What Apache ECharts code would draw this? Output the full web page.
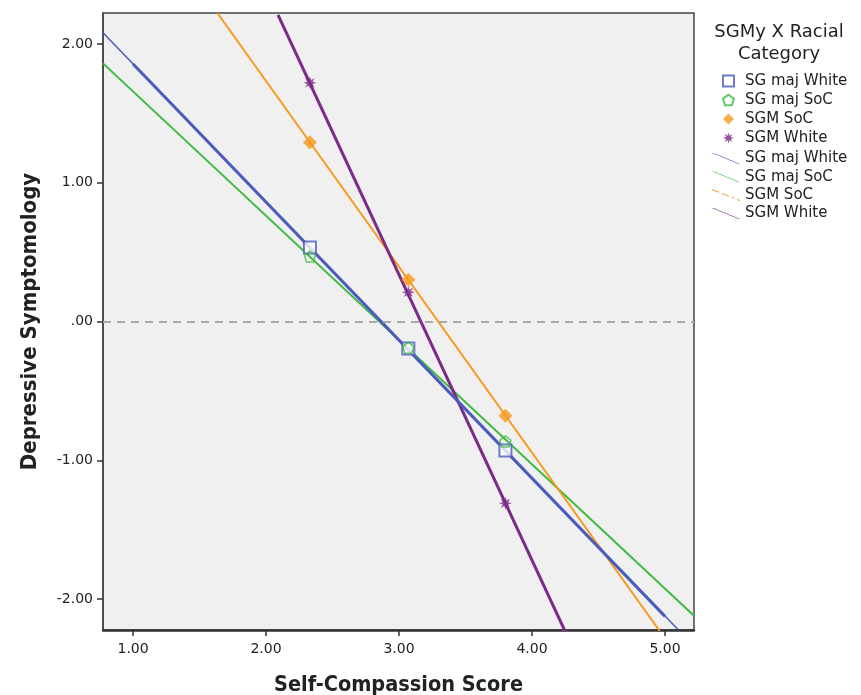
<!DOCTYPE html>
<html><head><meta charset="utf-8">
<script src="https://cdn.jsdelivr.net/npm/echarts@6/dist/echarts.min.js"></script>
<style>html,body{margin:0;padding:0;background:#fff}#c{width:861px;height:695px}</style>
</head><body><div id="c"></div>
<script>
// ---- data ----
const xCats = [2.33, 3.07, 3.80];
const sgMajWhite = [0.533, -0.195, -0.93];
const sgMajSoC = [0.468, -0.19, -0.865];
const sgmSoC = [1.29, 0.30, -0.68];
const sgmWhite = [1.72, 0.21, -1.31];
// fitted line endpoints [x, y]
const lineSgMajWhite = [[0.774, 2.08], [5.098, -2.22]];
const lineSgMajWhiteCore = [[1.0, 1.855], [5.0, -2.125]];
const lineSgMajSoC = [[0.774, 1.86], [5.218, -2.12]];
const lineSgmSoC = [[1.634, 2.223], [4.96, -2.23]];
const lineSgmWhite = [[2.09, 2.21], [4.25, -2.235]];
const xTicks = [1, 2, 3, 4, 5];
const yTicks = [-2, -1, 0, 1, 2];

const C = {blue:'#4b5bbd', green:'#3dba3f', orange:'#f7991c', purple:'#7a2b87'};

function starPath(n, ro, ri){
  let s = 'path://';
  for (let i=0;i<n*2;i++){
    const r = i%2===0?ro:ri;
    const a = Math.PI*i/n - Math.PI/2;
    s += (i===0?'M':'L') + (10+r*Math.cos(a)).toFixed(2)+','+(10+r*Math.sin(a)).toFixed(2)+' ';
  }
  return s+'Z';
}
const asterisk = starPath(8, 10, 4.5);
const pentagon = 'path://M10,0 L19.5,6.9 L15.9,18.1 L4.1,18.1 L0.5,6.9 Z';
const pair = (xs, ys) => xs.map((x,i)=>[x, ys[i]]);
const diag = 'path://M0,0 L1.5,0 L28,11 L26.5,11 Z';

const chart = echarts.init(document.getElementById('c'));
const lbl = {fontFamily:'DejaVu Sans', fontSize:14, color:'#222'};
const legText = {fontFamily:'DejaVu Sans', fontSize:15, color:'#222'};
chart.setOption({
  animation:false,
  backgroundColor:'#fff',
  grid:{left:103, top:13, width:591, height:617, outerBoundsMode:'none', containLabel:false, show:true, backgroundColor:'#f0f0f0', borderColor:'#444', borderWidth:1.5},
  xAxis:{type:'value', min:0.774, max:5.218, name:'Self-Compassion Score', nameLocation:'middle', nameGap:44,
    nameTextStyle:{fontFamily:'Liberation Sans Narrow, DejaVu Sans Condensed', fontWeight:'bold', fontSize:21.5, color:'#222'},
    axisLine:{show:true, onZero:false, lineStyle:{color:'#333', width:2.5}},
    axisTick:{show:true, customValues:xTicks, length:6, lineStyle:{color:'#333', width:1.5}},
    axisLabel:Object.assign({customValues:xTicks, margin:12, formatter:v=>v.toFixed(2)}, lbl),
    splitLine:{show:false}},
  yAxis:{type:'value', min:-2.223, max:2.223, name:'Depressive Symptomology', nameLocation:'middle', nameGap:62,
    nameTextStyle:{fontFamily:'Liberation Sans Narrow, DejaVu Sans Condensed', fontWeight:'bold', fontSize:22, color:'#222'},
    axisLine:{show:true, onZero:false, lineStyle:{color:'#444', width:1.5}},
    axisTick:{show:true, customValues:yTicks, length:6, lineStyle:{color:'#333', width:1.5}},
    axisLabel:Object.assign({customValues:yTicks, margin:10, formatter:v=>v===0?'.00':v.toFixed(2)}, lbl),
    splitLine:{show:false}},
  graphic:[{type:'text', style:{text:'SGMy X Racial\nCategory', x:779, y:21, fill:'#222', font:'18px DejaVu Sans', textAlign:'center', lineHeight:22}}],
  legend:[
    {orient:'vertical', left:722, top:73.5, padding:0, itemWidth:11, itemHeight:11, itemGap:4,
      textStyle:Object.assign({padding:[0,0,0,6]}, legText),
      data:['SG maj White','SG maj SoC','SGM SoC','SGM White']},
    {orient:'vertical', left:712, top:151, padding:0, itemWidth:28, itemHeight:12, itemGap:3.3,
      textStyle:legText,
      data:[
        {name:'SG maj White ', icon:diag},
        {name:'SG maj SoC ', icon:diag},
        {name:'SGM SoC ', icon:'path://M0,0 L7,2.75 L7,3.75 L0,1 Z M10,3.9 L17,6.65 L17,7.65 L10,4.9 Z M20,7.8 L22,8.6 L22,9.6 L20,8.8 Z M25,9.8 L28,11 L28,12 L25,10.8 Z'},
        {name:'SGM White ', icon:diag}
      ]}
  ],
  series:[
    {name:'SG maj White ', type:'line', data:lineSgMajWhite, symbol:'none', lineStyle:{color:C.blue, width:1.5}, itemStyle:{color:C.blue}, z:3,
      markLine:{silent:true, symbol:'none', label:{show:false}, lineStyle:{color:'#aaa', type:[8,6], width:2}, data:[{yAxis:0}]}},
    {name:'SGblueCore', type:'line', data:lineSgMajWhiteCore, symbol:'none', lineStyle:{color:C.blue, width:3}, z:3},
    {name:'SG maj SoC ', type:'line', data:lineSgMajSoC, symbol:'none', lineStyle:{color:C.green, width:2}, itemStyle:{color:C.green}, z:2},
    {name:'SGM SoC ', type:'line', data:lineSgmSoC, symbol:'none', lineStyle:{color:C.orange, width:2}, itemStyle:{color:C.orange}, z:2},
    {name:'SGM White ', type:'line', data:lineSgmWhite, symbol:'none', lineStyle:{color:C.purple, width:3}, itemStyle:{color:C.purple}, z:2},
    {name:'SG maj White', type:'scatter', data:pair(xCats, sgMajWhite), symbol:'emptyRect', symbolSize:12, itemStyle:{color:C.blue, borderColor:C.blue, borderWidth:1.5}, z:5},
    {name:'SG maj SoC', type:'scatter', data:pair(xCats, sgMajSoC), symbol:pentagon, symbolSize:11, itemStyle:{color:'rgba(0,0,0,0)', borderColor:C.green, borderWidth:1.5}, z:5},
    {name:'SGM SoC', type:'scatter', data:pair(xCats, sgmSoC), symbol:'diamond', symbolSize:14, itemStyle:{color:C.orange}, z:5},
    {name:'SGM White', type:'scatter', data:pair(xCats, sgmWhite), symbol:asterisk, symbolSize:13, itemStyle:{color:C.purple}, z:5}
  ]
});
</script></body></html>
